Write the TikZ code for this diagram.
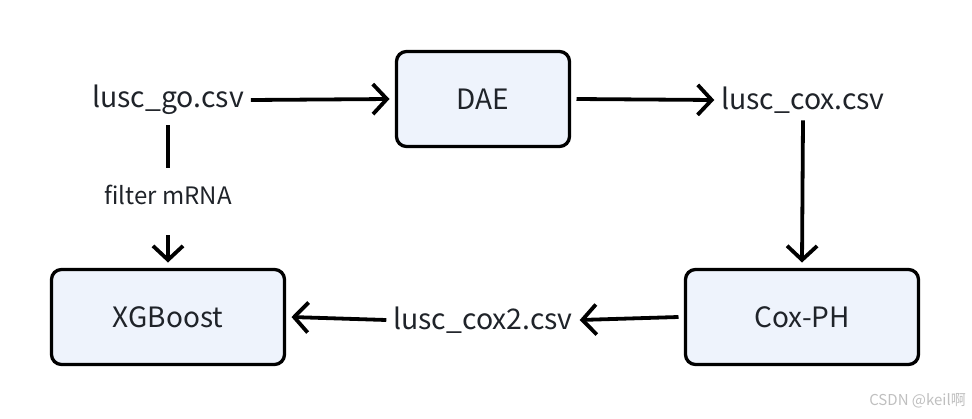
\documentclass[tikz,border=0pt]{standalone}
\usepackage{fontspec}
\setmainfont{Noto Sans CJK SC}
\newfontfamily\cjkfont{Noto Sans CJK SC}
\usetikzlibrary{arrows.meta}
\definecolor{boxfill}{HTML}{EEF3FC}
\definecolor{txt}{HTML}{1F2329}
\begin{document}
\begin{tikzpicture}[x=1pt,y=-1pt,
  proc/.style={draw=black,line width=3.3pt,rounded corners=10pt,fill=boxfill,
    minimum width=233pt,minimum height=95pt,inner sep=0pt,outer sep=7pt,font=\fontsize{28}{32}\selectfont,text=txt},
  dae/.style={proc,minimum width=173pt},
  file/.style={inner sep=0pt,outer sep=7pt,font=\fontsize{28.4}{32}\selectfont,text=txt},
  conn/.style={line width=3.8pt,-{Straight Barb[length=14pt,width=30pt,line width=3.8pt]}},
  plain/.style={line width=3.8pt}]
\useasboundingbox (0,0) rectangle (972,418);
\node[dae] (dae) at (483,99) {DAE};
\node[proc] (xgb) at (168,317) {XGBoost};
\node[proc] (cox) at (802,317) {Cox-PH};
\node[file] (go) at (168,100) {lusc\_go.csv};
\node[file] (lc) at (803,100) {lusc\_cox.csv};
\node[file] (lc2) at (483,320) {lusc\_cox2.csv};
\node[inner sep=0pt,font=\fontsize{24}{28}\selectfont,text=txt] (flt) at (168,195) {filter mRNA};
\node[font=\cjkfont\fontsize{15}{17}\selectfont,text=black!25,anchor=east,inner sep=0pt] (wm) at (966,401) {CSDN @keil啊};
\coordinate (goS) at (168,125);
\coordinate (fltN) at (168,168);
\coordinate (fltS) at (168,235);
\draw[conn] (go.east) -- (dae.west);
\draw[conn] (dae.east) -- (lc.west);
\draw[conn] (lc.south) -- (cox.north);
\draw[conn] (cox.west) -- (lc2.east);
\draw[conn] (lc2.west) -- (xgb.east);
\draw[plain] (goS) -- (fltN);
\draw[conn] (fltS) -- (xgb.north);
\end{tikzpicture}
\end{document}
